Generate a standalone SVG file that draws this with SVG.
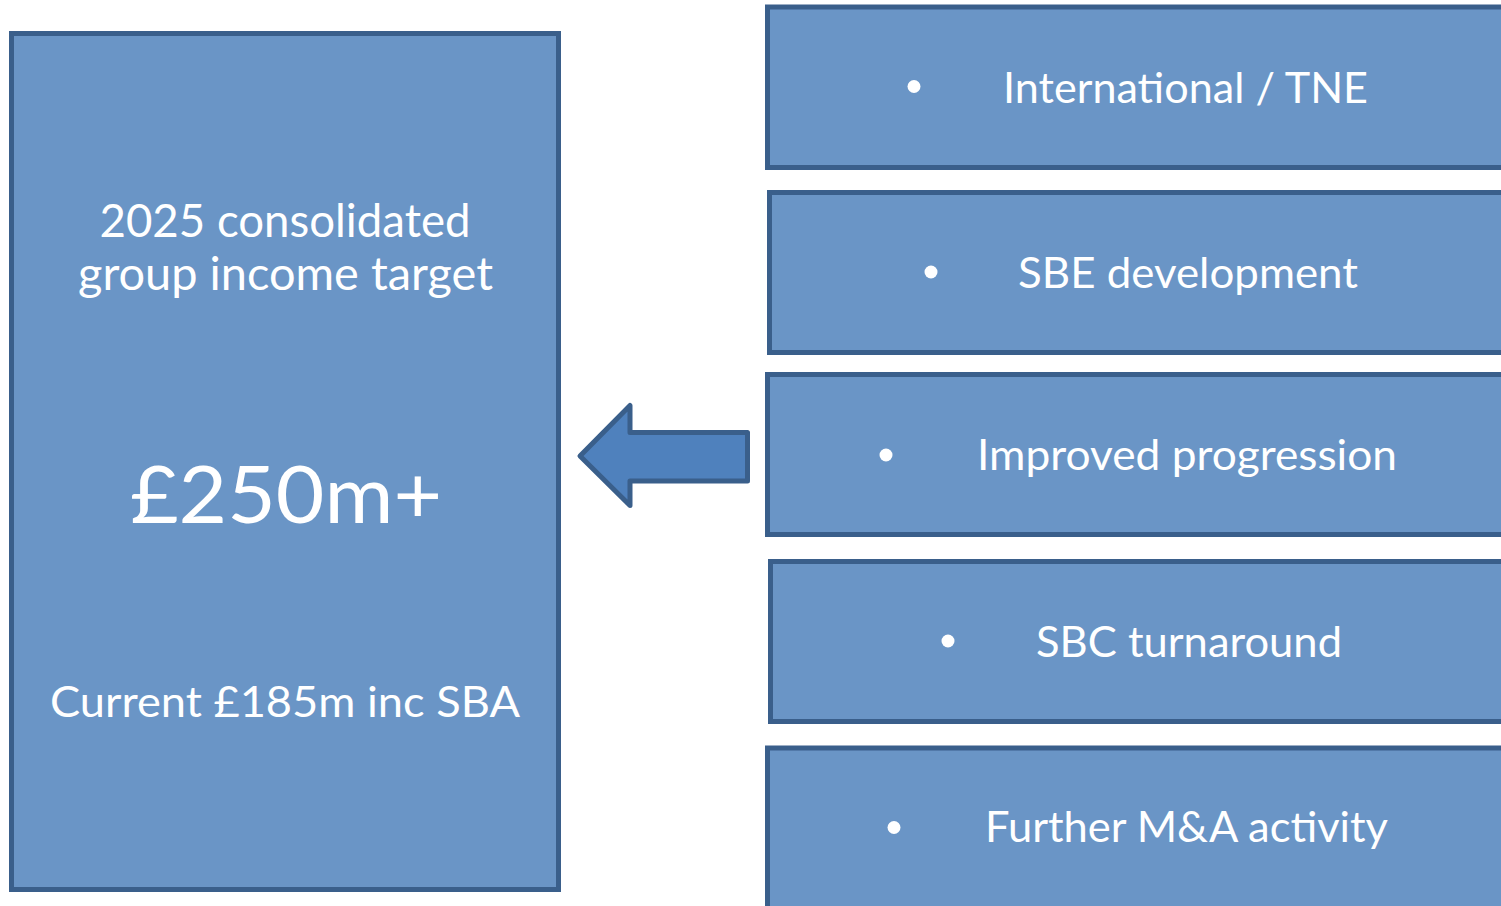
<svg xmlns="http://www.w3.org/2000/svg" width="1501" height="906" viewBox="0 0 1501 906">
  <style>
    .box { fill: #6A95C6; stroke: #3A5F8B; stroke-width: 5; }
    .arrow { fill: #4F81BD; stroke: #3A5F8B; stroke-width: 5; stroke-linejoin: round; }
    .t { fill: #FFFFFF; font-family: Lato, "Open Sans", "Liberation Sans", sans-serif; text-anchor: middle; }
    .bullet { fill: #FFFFFF; }
  </style>
  <rect width="1501" height="906" fill="#FFFFFF"/>

  <!-- Target panel -->
  <g id="target">
    <rect class="box" x="11.5" y="33.5" width="547" height="856"/>
    <text class="t" x="285" y="237" font-size="47" textLength="371" lengthAdjust="spacingAndGlyphs">2025 consolidated</text>
    <text class="t" x="285.5" y="290" font-size="47" textLength="415" lengthAdjust="spacingAndGlyphs">group income target</text>
    <text class="t" x="286" y="523" font-size="80" textLength="312" lengthAdjust="spacingAndGlyphs">£250m+</text>
    <text class="t" x="285" y="717" font-size="42" textLength="470" lengthAdjust="spacingAndGlyphs">Current £185m inc SBA</text>
  </g>

  <!-- Connector -->
  <g id="connectors">
    <path class="arrow" d="M580,456 L630,405.5 L630,432.5 L747.5,432.5 L747.5,481 L630,481 L630,505.5 Z"/>
  </g>

  <!-- Contributing drivers -->
  <g id="driver-international">
    <rect class="box" x="767.5" y="7" width="760" height="160.5"/>
    <circle class="bullet" cx="914" cy="86.5" r="6.5"/>
    <text class="t" x="1185.5" y="102.5" font-size="43" textLength="365" lengthAdjust="spacingAndGlyphs">International / TNE</text>
  </g>
  <g id="driver-sbe">
    <rect class="box" x="769.5" y="192.5" width="760" height="160"/>
    <circle class="bullet" cx="931" cy="272" r="6.5"/>
    <text class="t" x="1188" y="288" font-size="43" textLength="340" lengthAdjust="spacingAndGlyphs">SBE development</text>
  </g>
  <g id="driver-progression">
    <rect class="box" x="767.5" y="374.5" width="760" height="160"/>
    <circle class="bullet" cx="886" cy="455" r="6.5"/>
    <text class="t" x="1187" y="470" font-size="43" textLength="420" lengthAdjust="spacingAndGlyphs">Improved progression</text>
  </g>
  <g id="driver-sbc">
    <rect class="box" x="770.5" y="561.5" width="760" height="160"/>
    <circle class="bullet" cx="948" cy="641" r="6.5"/>
    <text class="t" x="1189" y="657" font-size="43" textLength="306" lengthAdjust="spacingAndGlyphs">SBC turnaround</text>
  </g>
  <g id="driver-ma">
    <rect class="box" x="767.5" y="748" width="760" height="200"/>
    <circle class="bullet" cx="894" cy="827.5" r="6.5"/>
    <text class="t" x="1186.5" y="842" font-size="43" textLength="403" lengthAdjust="spacingAndGlyphs">Further M&amp;A activity</text>
  </g>
</svg>
